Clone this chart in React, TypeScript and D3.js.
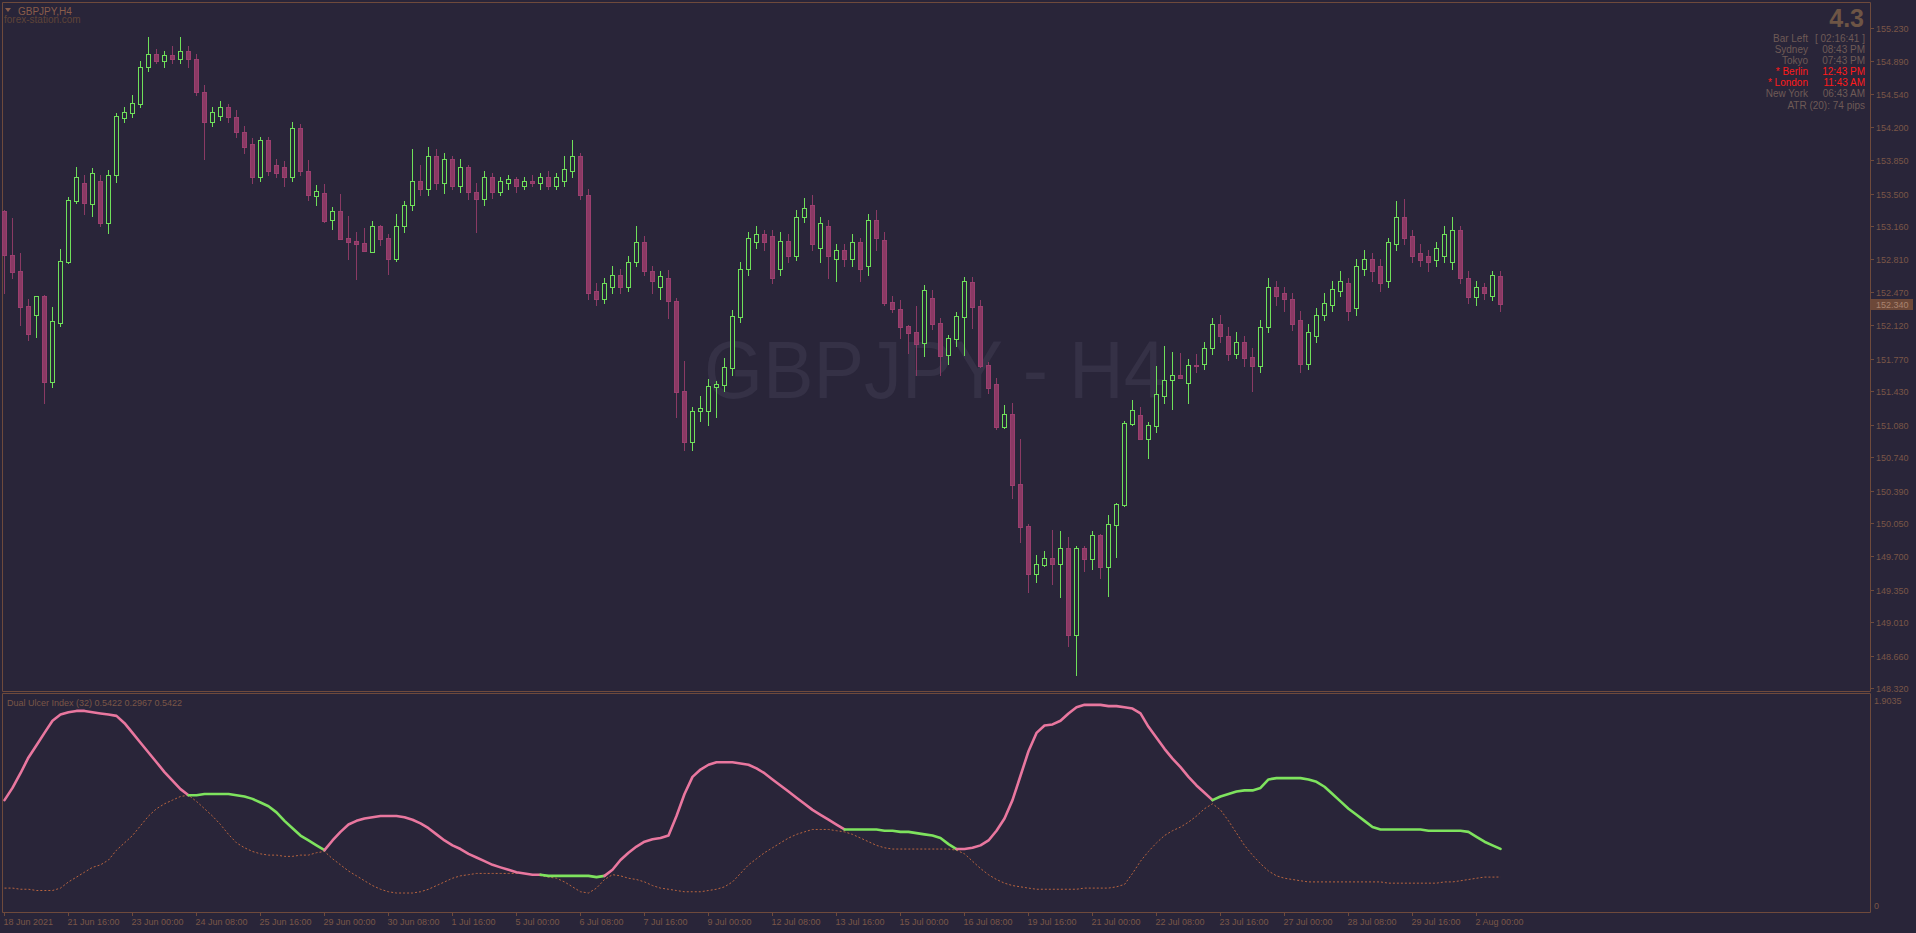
import React from "react";
import * as d3 from "d3";

const BG = "#292539";
const AXIS = "#6e4a3c";
const TXT = "#7a5647";
const BULL = "#6fe05a";
const BEAR_FILL = "#8a3a64";
const BEAR_STROKE = "#9b3f6f";
const FONT = "'Liberation Sans', Arial, sans-serif";

const opens = [
  153.317,152.853,152.689,152.322,152.231,152.427,151.523,152.147,152.786,153.425,
  153.610,153.393,153.631,153.194,153.694,154.287,154.338,154.440,154.824,154.964,
  154.888,154.952,154.913,154.990,154.913,154.568,154.248,154.312,154.402,154.299,
  154.146,154.018,153.673,154.056,153.801,153.775,153.673,154.184,153.736,153.477,
  153.505,153.226,153.317,153.031,153.003,152.982,152.891,153.160,153.034,152.817,
  153.161,153.379,153.634,153.545,153.890,153.609,153.865,153.583,153.775,153.519,
  153.443,153.673,153.519,153.609,153.647,153.583,153.634,153.609,153.673,153.583,
  153.634,153.737,153.890,153.481,152.483,152.394,152.522,152.650,152.522,152.778,
  152.995,152.688,152.522,152.615,152.371,151.432,150.901,151.220,151.226,151.477,
  151.498,151.676,152.210,152.714,152.995,153.072,153.059,152.714,153.008,152.842,
  153.251,153.379,152.931,153.161,152.816,152.906,152.816,152.995,152.739,153.225,
  153.013,152.364,152.291,152.113,152.047,151.938,152.406,152.141,151.812,151.980,
  152.210,152.573,152.322,151.701,151.506,151.058,151.188,150.455,150.016,149.519,
  149.614,149.681,149.624,149.785,148.881,149.785,149.676,149.921,149.593,150.032,
  150.242,151.090,151.178,150.933,151.069,151.383,151.544,151.597,151.513,151.701,
  151.716,151.882,152.138,152.010,151.819,151.946,151.793,151.691,152.100,152.522,
  152.458,152.394,152.177,151.716,152.010,152.228,152.330,152.483,152.560,152.304,
  152.714,152.816,152.739,152.586,152.969,153.251,153.059,152.880,152.842,152.803,
  152.842,152.778,153.123,152.611,152.420,152.522,152.432,152.637,
];
const highs = [
  153.327,153.244,152.877,152.395,152.427,152.437,152.312,152.919,153.463,153.778,
  153.694,153.767,153.694,153.746,154.343,154.402,154.530,154.888,155.143,155.015,
  154.990,155.041,155.143,155.041,154.964,154.632,154.402,154.466,154.440,154.376,
  154.210,154.082,154.095,154.095,153.865,153.839,154.248,154.223,153.851,153.589,
  153.599,153.359,153.495,153.264,153.097,153.139,153.212,153.170,153.076,153.285,
  153.417,153.967,153.801,153.992,153.967,153.928,153.890,153.865,153.801,153.609,
  153.737,153.711,153.673,153.698,153.673,153.673,153.698,153.711,153.737,153.711,
  153.890,154.056,153.928,153.545,152.560,152.611,152.739,152.714,152.842,153.161,
  153.059,152.739,152.688,152.699,152.406,151.746,151.262,151.380,151.558,151.537,
  151.775,152.280,152.783,153.097,153.161,153.123,153.123,153.097,153.072,153.328,
  153.455,153.481,153.251,153.225,152.969,152.969,153.072,153.033,153.289,153.328,
  153.097,152.427,152.385,152.123,152.322,152.542,152.490,152.197,152.019,152.263,
  152.626,152.626,152.385,151.733,151.565,151.286,151.303,150.930,150.037,149.715,
  149.757,149.977,149.966,149.904,149.809,149.809,149.966,149.935,150.134,150.256,
  151.118,151.338,151.265,151.105,151.694,151.903,151.841,151.833,151.767,151.820,
  151.946,152.202,152.228,152.100,152.049,152.010,151.882,152.177,152.611,152.586,
  152.522,152.458,152.266,152.138,152.304,152.458,152.586,152.688,152.611,152.816,
  152.906,152.880,152.816,153.033,153.417,153.443,153.123,152.969,152.906,152.995,
  153.161,153.251,153.161,152.688,152.586,152.560,152.688,152.688,
];
const lows = [
  152.461,152.619,152.123,151.969,152.001,151.307,151.477,152.116,152.776,153.404,
  153.289,153.268,153.163,153.090,153.624,154.248,154.299,154.402,154.785,154.862,
  154.824,154.862,154.862,154.824,154.530,153.865,154.210,154.274,154.248,154.095,
  153.928,153.609,153.634,153.698,153.673,153.583,153.634,153.698,153.432,153.380,
  153.205,153.128,153.027,152.814,152.605,152.901,152.891,152.964,152.660,152.797,
  153.097,153.328,153.481,153.481,153.545,153.506,153.545,153.519,153.443,153.097,
  153.379,153.455,153.481,153.545,153.519,153.545,153.583,153.545,153.545,153.545,
  153.583,153.673,153.443,152.394,152.330,152.356,152.458,152.458,152.483,152.739,
  152.650,152.458,152.394,152.200,151.163,150.815,150.815,151.121,151.076,151.163,
  151.435,151.600,152.158,152.650,152.931,152.906,152.560,152.650,152.778,152.803,
  153.200,152.906,152.778,152.611,152.586,152.739,152.739,152.586,152.650,152.906,
  152.333,152.259,151.990,151.833,151.600,151.802,152.081,151.600,151.718,151.907,
  151.812,152.095,151.687,151.414,151.034,151.048,150.315,149.855,149.331,149.436,
  149.603,149.415,149.279,148.766,148.459,149.551,149.572,149.478,149.289,149.697,
  150.231,151.079,150.933,150.734,151.006,151.303,151.247,151.572,151.310,151.634,
  151.665,151.819,151.946,151.755,151.780,151.691,151.435,151.627,152.049,152.330,
  152.266,152.074,151.627,151.665,151.946,152.177,152.266,152.432,152.177,152.228,
  152.650,152.586,152.483,152.522,152.906,152.969,152.778,152.739,152.688,152.739,
  152.778,152.714,152.560,152.356,152.330,152.394,152.381,152.266,
];
const closes = [
  152.859,152.681,152.315,152.032,152.427,151.523,152.165,152.793,153.432,153.673,
  153.404,153.715,153.194,153.694,154.311,154.350,154.453,154.824,154.964,154.888,
  154.952,154.913,154.990,154.913,154.568,154.248,154.350,154.402,154.299,154.146,
  153.992,153.673,154.056,153.737,153.711,153.673,154.184,153.737,153.488,153.526,
  153.215,153.317,153.027,152.995,152.974,152.901,153.160,153.027,152.817,153.160,
  153.379,153.634,153.545,153.890,153.609,153.865,153.583,153.775,153.519,153.443,
  153.673,153.519,153.634,153.647,153.583,153.634,153.609,153.673,153.583,153.673,
  153.762,153.890,153.481,152.458,152.394,152.560,152.650,152.522,152.778,152.995,
  152.688,152.586,152.637,152.371,151.425,150.901,151.220,151.251,151.481,151.506,
  151.680,152.217,152.710,153.033,153.072,152.995,152.611,153.008,152.842,153.251,
  153.353,152.969,153.187,152.842,152.906,152.816,152.995,152.714,153.225,153.033,
  152.357,152.294,152.105,152.043,151.928,152.495,152.137,151.802,151.984,152.217,
  152.584,152.315,151.697,151.467,151.058,151.188,150.451,150.012,149.519,149.618,
  149.681,149.624,149.785,148.881,149.785,149.676,149.921,149.593,150.037,150.246,
  151.094,151.230,150.933,151.073,151.398,151.544,151.597,151.572,151.701,151.694,
  151.882,152.138,152.010,151.819,151.946,151.780,151.691,152.100,152.522,152.432,
  152.394,152.138,151.716,152.049,152.228,152.356,152.496,152.586,152.266,152.739,
  152.816,152.688,152.560,152.995,153.251,153.033,152.842,152.803,152.778,152.931,
  153.072,153.123,152.611,152.420,152.522,152.458,152.650,152.340,
];

const ulcerMain = [
  0.968,1.075,1.203,1.341,1.448,1.555,1.661,1.715,1.736,1.747,
  1.747,1.736,1.725,1.715,1.704,1.640,1.555,1.469,1.384,1.299,
  1.213,1.139,1.064,1.011,1.011,1.022,1.022,1.022,1.022,1.011,
  1.000,0.979,0.947,0.915,0.861,0.787,0.723,0.659,0.616,0.573,
  0.531,0.616,0.691,0.755,0.787,0.808,0.819,0.829,0.829,0.829,
  0.819,0.797,0.765,0.723,0.669,0.616,0.573,0.541,0.499,0.467,
  0.435,0.403,0.381,0.360,0.339,0.328,0.317,0.317,0.307,0.307,
  0.307,0.307,0.307,0.307,0.296,0.307,0.360,0.445,0.509,0.563,
  0.605,0.627,0.637,0.659,0.829,1.022,1.171,1.235,1.277,1.299,
  1.299,1.299,1.288,1.277,1.245,1.203,1.149,1.096,1.043,0.989,
  0.936,0.883,0.840,0.797,0.755,0.712,0.712,0.712,0.712,0.712,
  0.701,0.701,0.691,0.691,0.680,0.669,0.659,0.637,0.584,0.541,
  0.541,0.552,0.573,0.616,0.701,0.808,0.968,1.181,1.395,1.555,
  1.619,1.629,1.661,1.725,1.779,1.800,1.800,1.800,1.789,1.789,
  1.779,1.768,1.725,1.608,1.512,1.416,1.331,1.256,1.171,1.096,
  1.032,0.968,1.000,1.022,1.043,1.053,1.053,1.075,1.149,1.160,
  1.160,1.160,1.160,1.149,1.128,1.085,1.022,0.957,0.893,0.840,
  0.787,0.733,0.712,0.712,0.712,0.712,0.712,0.712,0.701,0.701,
  0.701,0.701,0.701,0.691,0.648,0.605,0.573,0.5422,
];
const ulcerSignal = [
  0.200,0.200,0.190,0.190,0.179,0.179,0.179,0.200,0.254,0.296,
  0.339,0.381,0.403,0.445,0.531,0.595,0.659,0.744,0.829,0.893,
  0.936,0.968,1.000,1.011,0.957,0.893,0.829,0.755,0.669,0.595,
  0.552,0.520,0.499,0.488,0.488,0.477,0.477,0.488,0.488,0.509,
  0.520,0.456,0.403,0.349,0.307,0.264,0.222,0.190,0.168,0.157,
  0.157,0.157,0.168,0.190,0.222,0.254,0.286,0.307,0.317,0.328,
  0.328,0.328,0.328,0.328,0.328,0.328,0.317,0.307,0.296,0.286,
  0.254,0.211,0.168,0.157,0.200,0.275,0.317,0.307,0.286,0.275,
  0.254,0.222,0.200,0.190,0.179,0.168,0.168,0.168,0.179,0.190,
  0.211,0.254,0.328,0.403,0.456,0.509,0.552,0.595,0.637,0.669,
  0.691,0.712,0.712,0.712,0.701,0.691,0.669,0.637,0.605,0.573,
  0.552,0.541,0.541,0.541,0.541,0.541,0.541,0.541,0.541,0.531,
  0.499,0.435,0.371,0.317,0.275,0.243,0.222,0.211,0.200,0.190,
  0.190,0.190,0.190,0.190,0.190,0.200,0.200,0.200,0.200,0.211,
  0.232,0.328,0.435,0.520,0.595,0.659,0.701,0.733,0.776,0.829,
  0.893,0.936,0.883,0.787,0.680,0.573,0.488,0.413,0.349,0.307,
  0.286,0.275,0.264,0.254,0.254,0.254,0.254,0.254,0.254,0.254,
  0.254,0.254,0.254,0.243,0.243,0.243,0.243,0.243,0.243,0.243,
  0.254,0.254,0.264,0.275,0.286,0.296,0.296,0.2967,
];
// [fromBar, toBar, state]
const mainSegments: [number, number, "dn" | "up"][] = [
  [0, 23, "dn"], [23, 40, "up"], [40, 67, "dn"], [67, 75, "up"],
  [75, 105, "dn"], [105, 119, "up"], [119, 151, "dn"], [151, 187, "up"],
];

const priceTicks = [155.23,154.89,154.54,154.2,153.85,153.5,153.16,152.81,152.47,152.12,151.77,151.43,151.08,150.74,150.39,150.05,149.7,149.35,149.01,148.66,148.32];
const timeLabels = ["18 Jun 2021","21 Jun 16:00","23 Jun 00:00","24 Jun 08:00","25 Jun 16:00","29 Jun 00:00","30 Jun 08:00","1 Jul 16:00","5 Jul 00:00","6 Jul 08:00","7 Jul 16:00","9 Jul 00:00","12 Jul 08:00","13 Jul 16:00","15 Jul 00:00","16 Jul 08:00","19 Jul 16:00","21 Jul 00:00","22 Jul 08:00","23 Jul 16:00","27 Jul 00:00","28 Jul 08:00","29 Jul 16:00","2 Aug 00:00"];
const timeLabelBars = [0,8,16,24,32,40,48,56,64,72,80,88,96,104,112,120,128,136,144,152,160,168,176,184];

const infoRows: [string, string, boolean][] = [
  ["Bar Left", "[ 02:16:41 ]", false],
  ["Sydney", "08:43 PM", false],
  ["Tokyo", "07:43 PM", false],
  ["* Berlin", "12:43 PM", true],
  ["* London", "11:43 AM", true],
  ["New York", "06:43 AM", false],
];

export default function App() {
  const x = d3.scaleLinear().domain([0, 1]).range([4, 12]);
  const y = d3.scaleLinear().domain([148.32, 155.23]).range([688.3, 28.3]);
  const yi = d3.scaleLinear().domain([0, 1.9035]).range([911, 693]);
  const curPrice = 152.34;

  const candles = opens.map((o, i) => {
    const h = highs[i], l = lows[i], c = closes[i];
    const cx = Math.round(x(i));
    const yo = y(o), yc = y(c);
    const top = Math.round(Math.min(yo, yc));
    const bot = Math.round(Math.max(yo, yc));
    const bull = c >= o;
    const col = bull ? BULL : BEAR_STROKE;
    return (
      <g key={i}>
        <line x1={cx + 0.5} x2={cx + 0.5} y1={Math.round(y(h))} y2={Math.round(y(l)) + 1} stroke={bull ? BULL : BEAR_FILL} strokeWidth={1} />
        <rect x={cx - 1.5} y={top + 0.5} width={4} height={Math.max(bot - top, 0)} fill={bull ? BG : BEAR_FILL} stroke={col} strokeWidth={1} />
      </g>
    );
  });

  const line = d3.line<number>().x((_, i) => x(i) + 0.5).y((v) => yi(v));
  const segPaths = mainSegments.map(([a, b, s], k) => {
    const pts = ulcerMain.slice(a, b + 1);
    const gen = d3.line<number>().x((_, j) => x(a + j) + 0.5).y((v) => yi(v));
    return <path key={k} d={gen(pts) || ""} fill="none" stroke={s === "dn" ? "#e9779f" : "#7ee35e"} strokeWidth={2.6} strokeLinejoin="round" strokeLinecap="round" />;
  });

  return (
    <svg width={1916} height={933} style={{ position: "fixed", left: 0, top: 0, display: "block" }} fontFamily={FONT}>
      <rect x={0} y={0} width={1916} height={933} fill={BG} />
      <text x={935} y={398} textAnchor="middle" fontSize={81} fill="#353146" textLength={462} lengthAdjust="spacingAndGlyphs">GBPJPY - H4</text>

      <path d="M2.5,691.5 V2.5 H1870.5 V691.5 H2.5" fill="none" stroke={AXIS} />
      <path d="M2.5,693.5 V912.5 H1870.5 V693.5 H2.5" fill="none" stroke={AXIS} />

      <path d="M5,8 L11,8 L8,12 Z" fill="#8a5d4a" />
      <text x={18} y={14.5} fontSize={10} fill="#8a5d4a">GBPJPY,H4</text>
      <text x={4} y={22.5} fontSize={10} fill="#5f4438">forex-station.com</text>

      {priceTicks.map((p) => {
        const yy = Math.round(y(p)) + 0.5;
        return (
          <g key={p}>
            <line x1={1870} x2={1874} y1={yy} y2={yy} stroke={AXIS} />
            <text x={1876} y={yy + 3.3} fontSize={9} fill={TXT}>{p.toFixed(3)}</text>
          </g>
        );
      })}
      <rect x={1871} y={Math.round(y(curPrice)) - 5} width={42} height={11} fill="#6d4838" />
      <text x={1876} y={Math.round(y(curPrice)) + 3.8} fontSize={9} fill="#a9836f">{curPrice.toFixed(3)}</text>

      {candles}

      <text x={1864} y={27} textAnchor="end" fontSize={25} fontWeight="bold" fill="#6e5545">4.3</text>
      {infoRows.map(([a, b, red], k) => (
        <g key={k} fill={red ? "#ff1a1a" : "#6e5a56"} fontSize={10}>
          <text x={1808} y={42 + k * 11} textAnchor="end">{a}</text>
          <text x={1865} y={42 + k * 11} textAnchor="end">{b}</text>
        </g>
      ))}
      <text x={1865} y={108.5} textAnchor="end" fontSize={10} fill="#6e5a56">ATR (20): 74 pips</text>

      <text x={7} y={706} fontSize={9} fill={TXT}>Dual Ulcer Index (32) 0.5422 0.2967 0.5422</text>
      <path d={line(ulcerSignal) || ""} fill="none" stroke="#b8643f" strokeWidth={1} strokeDasharray="2,2" />
      {segPaths}
      <text x={1874} y={704} fontSize={9} fill={TXT}>1.9035</text>
      <text x={1874} y={909} fontSize={9} fill={TXT}>0</text>

      {timeLabels.map((t, k) => {
        const xx = Math.round(x(timeLabelBars[k])) + 0.5;
        return (
          <g key={t}>
            <line x1={xx} x2={xx} y1={912} y2={916} stroke={AXIS} />
            <text x={xx - 1} y={925} fontSize={9} fill={TXT}>{t}</text>
          </g>
        );
      })}
    </svg>
  );
}
